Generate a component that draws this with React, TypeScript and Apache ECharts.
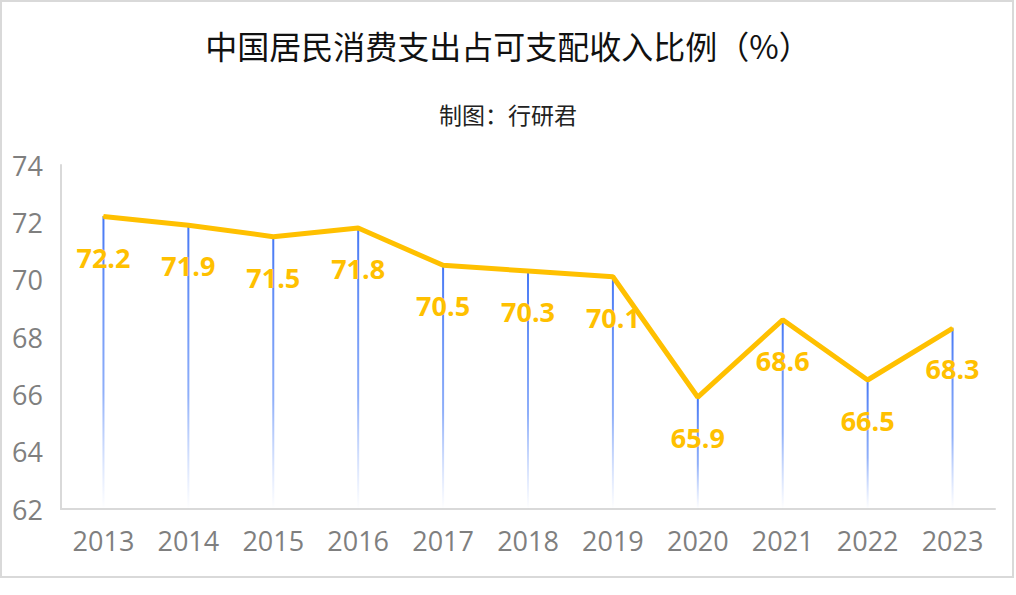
import React, { useEffect, useRef } from "react";
import * as echarts from "echarts";

const years = ["2013", "2014", "2015", "2016", "2017", "2018", "2019", "2020", "2021", "2022", "2023"];
const ratio = [72.2, 71.9, 71.5, 71.8, 70.5, 70.3, 70.1, 65.9, 68.6, 66.5, 68.3];
const titleText = "中国居民消费支出占可支配收入比例（%）";
const subtitleText = "制图：行研君";

export default function App() {
  const ref = useRef<HTMLDivElement>(null);
  useEffect(() => {
    document.body.style.margin = "0";
    const chart = echarts.init(ref.current!, null, { renderer: "svg" });
    const numFont = "'Open Sans', 'Noto Sans', sans-serif";
    chart.setOption({
      animation: false,
      backgroundColor: "#ffffff",
      title: [
        {
          text: titleText,
          left: "center",
          top: 24,
          textStyle: { fontFamily: "'Noto Sans CJK SC', sans-serif", fontSize: 32, fontWeight: "normal", color: "#111111" },
        },
        {
          text: subtitleText,
          left: "center",
          top: 97,
          textStyle: { fontFamily: "'Noto Sans CJK SC', sans-serif", fontSize: 23, fontWeight: "normal", color: "#222222" },
        },
      ],
      graphic: [
        {
          type: "rect",
          shape: { x: 1, y: 1, width: 1012, height: 576 },
          style: { fill: "none", stroke: "#d9d9d9", lineWidth: 2 },
          silent: true,
          z: -1,
        },
      ],
      grid: { left: 61, right: 21, top: 165, bottom: 86, containLabel: false },
      xAxis: {
        type: "category",
        data: years,
        boundaryGap: true,
        axisLine: { lineStyle: { color: "#d9d9d9", width: 2 } },
        axisTick: { show: false },
        axisLabel: { fontFamily: numFont, fontSize: 27, color: "#7f7f7f", margin: 18 },
      },
      yAxis: {
        type: "value",
        min: 62,
        max: 74,
        interval: 2,
        axisLine: { show: true, lineStyle: { color: "#d9d9d9", width: 2 } },
        axisTick: { show: false },
        splitLine: { show: false },
        axisLabel: { fontFamily: numFont, fontSize: 27, color: "#7f7f7f", margin: 18 },
      },
      series: [
        {
          type: "bar",
          data: ratio,
          barWidth: 2,
          z: 1,
          silent: true,
          itemStyle: {
            color: new echarts.graphic.LinearGradient(0, 0, 0, 1, [
              { offset: 0, color: "rgba(70,120,245,1)" },
              { offset: 0.6, color: "rgba(115,155,248,0.8)" },
              { offset: 1, color: "rgba(150,180,250,0)" },
            ]),
          },
        },
        {
          type: "line",
          data: ratio,
          z: 3,
          symbol: "circle",
          symbolSize: 2,
          showSymbol: true,
          itemStyle: { color: "#FFC000" },
          lineStyle: { color: "#FFC000", width: 5 },
          label: {
            show: true,
            position: "bottom",
            distance: 26,
            fontFamily: numFont,
            fontSize: 27,
            fontWeight: "bold",
            color: "#FFC000",
          },
        },
      ],
    });
    return () => chart.dispose();
  }, []);
  return <div ref={ref} style={{ width: 1016, height: 595 }} />;
}
